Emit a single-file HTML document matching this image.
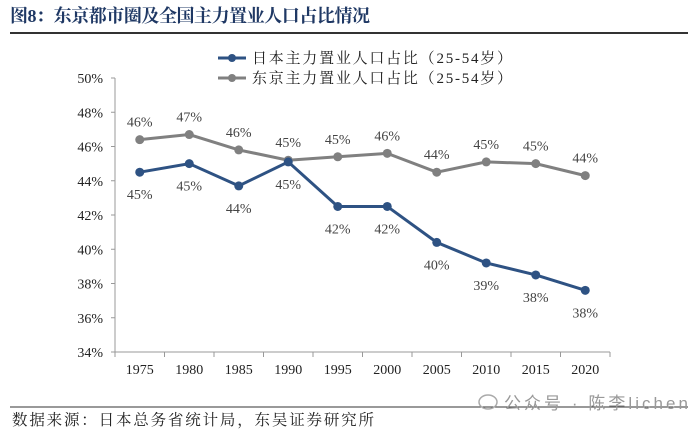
<!DOCTYPE html>
<html><head><meta charset="utf-8"><style>
body{margin:0;background:#fff;width:700px;height:432px;overflow:hidden;font-family:"Liberation Serif","Noto Serif CJK SC",serif;}
</style></head><body>
<svg width="700" height="432">
<text x="10" y="22" font-size="18" font-weight="bold" fill="#1f3864" textLength="360" font-family="'Liberation Serif','Noto Serif CJK SC',serif">图8：东京都市圈及全国主力置业人口占比情况</text>
<line x1="10" y1="33" x2="688" y2="33" stroke="#333" stroke-width="2"/>
<g>
<line x1="218" y1="58" x2="246" y2="58" stroke="#2e5283" stroke-width="3"/><circle cx="232" cy="58" r="4" fill="#2e5283"/>
<text x="252" y="63" font-size="15" fill="#222" textLength="260" font-family="'Liberation Serif','Noto Serif CJK SC',serif">日本主力置业人口占比（25-54岁）</text>
<line x1="218" y1="78" x2="246" y2="78" stroke="#808080" stroke-width="3"/><circle cx="232" cy="78" r="4" fill="#808080"/>
<text x="252" y="83" font-size="15" fill="#222" textLength="260" font-family="'Liberation Serif','Noto Serif CJK SC',serif">东京主力置业人口占比（25-54岁）</text>
</g>
<g id="axes"></g><g id="marks"></g>
<line x1="10" y1="407" x2="688" y2="407" stroke="#333" stroke-width="1"/>
<text x="12" y="425" font-size="15.5" fill="#222" textLength="362" font-family="'Liberation Serif','Noto Serif CJK SC',serif">数据来源：日本总务省统计局，东吴证券研究所</text>
<g>
<ellipse cx="488" cy="402" rx="9" ry="7" fill="none" stroke="#aaa" stroke-width="1.5"/>
<text x="504" y="409" font-size="17" fill="#999" textLength="184" font-family="'Liberation Sans','Noto Sans CJK SC',sans-serif">公众号 · 陈李lichen</text>
</g>
</svg>
<script>
const years=["1975","1980","1985","1990","1995","2000","2005","2010","2015","2020"];
const japan=[44.5,45.0,43.7,45.1,42.5,42.5,40.4,39.2,38.5,37.6];
const tokyo=[46.4,46.7,45.8,45.2,45.4,45.6,44.5,45.1,45.0,44.3];
const japanLabels=["45%","45%","44%","45%","42%","42%","40%","39%","38%","38%"];
const tokyoLabels=["46%","47%","46%","45%","45%","46%","44%","45%","45%","44%"];
const yTicks=[34,36,38,40,42,44,46,48,50];
const NS="http://www.w3.org/2000/svg";
const x0=115,x1=610,yTop=78,yBot=352,ymin=34,ymax=50;
const step=(x1-x0)/years.length;
const X=i=>x0+step*(i+0.5);
const Y=v=>yBot-(v-ymin)/(ymax-ymin)*(yBot-yTop);
function mk(p,t,a){const e=document.createElementNS(NS,t);for(const k in a)e.setAttribute(k,a[k]);p.appendChild(e);return e;}
const ax=document.getElementById('axes'),mg=document.getElementById('marks');
const F="'Liberation Serif',serif";
let yl=mk(ax,'line',{x1:x0,y1:yTop,x2:x0,y2:yBot,stroke:'#999'});


let xl=mk(ax,'line',{x1:x0,y1:yBot,x2:x1,y2:yBot,stroke:'#999'});


yTicks.forEach(v=>{mk(ax,'line',{x1:x0-4,y1:Y(v),x2:x0,y2:Y(v),stroke:'#999'});
const t=mk(ax,'text',{x:x0-12,y:Y(v)+5,'text-anchor':'end','font-size':14,fill:'#222','font-family':F});t.textContent=v+'%';

});
for(let i=0;i<=years.length;i++)mk(ax,'line',{x1:x0+step*i,y1:yBot,x2:x0+step*i,y2:yBot+5,stroke:'#999'});
years.forEach((y,i)=>{const t=mk(ax,'text',{x:X(i),y:yBot+22,'text-anchor':'middle','font-size':14,fill:'#222','font-family':F});t.textContent=y;

});
function series(vals,labels,color,name,above){
const l=mk(mg,'polyline',{points:vals.map((v,i)=>X(i)+','+Y(v)).join(' '),fill:'none',stroke:color,'stroke-width':3});


vals.forEach((v,i)=>{const c=mk(mg,'circle',{cx:X(i),cy:Y(v),r:4.5,fill:color});


const t=mk(mg,'text',{x:X(i),y:above?Y(v)-13:Y(v)+27,'text-anchor':'middle','font-size':14,fill:'#444','font-family':F});t.textContent=labels[i];

});}
series(tokyo,tokyoLabels,'#808080','tokyo',true);
series(japan,japanLabels,'#2e5283','japan',false);
</script>
</body></html>
